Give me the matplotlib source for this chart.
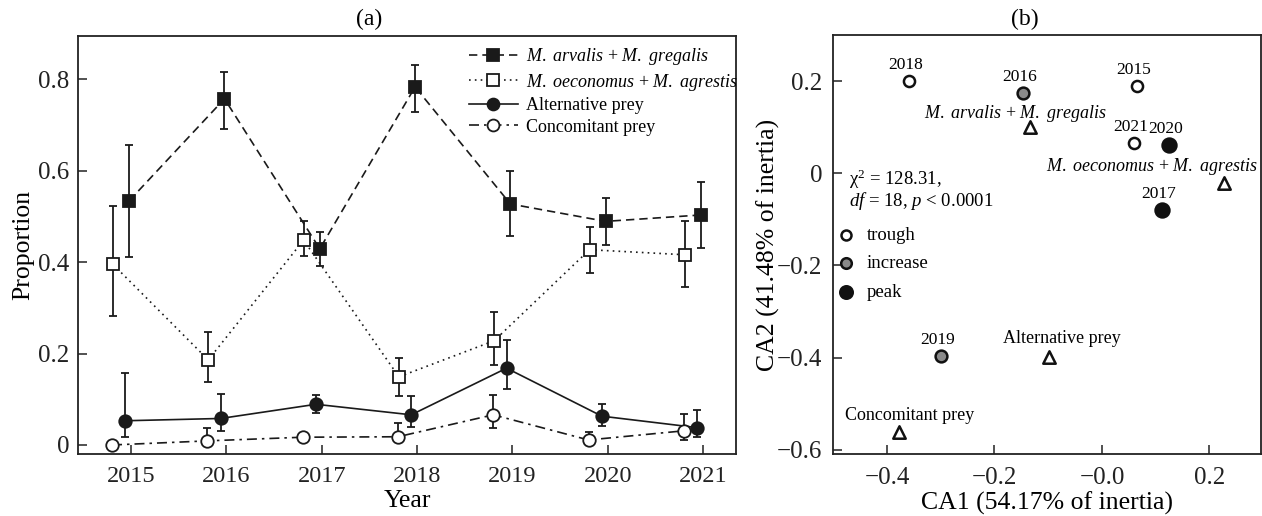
import matplotlib
matplotlib.use("Agg")
import matplotlib.pyplot as plt
import numpy as np

plt.rcParams["font.family"] = "serif"
plt.rcParams["font.serif"] = ["Liberation Serif", "DejaVu Serif"]
plt.rcParams["mathtext.fontset"] = "custom"
plt.rcParams["mathtext.rm"] = "Liberation Serif"
plt.rcParams["mathtext.it"] = "Liberation Serif:italic"
plt.rcParams["axes.unicode_minus"] = True

# panel (a): prey proportions by year, with confidence limits
years = np.array([2015, 2016, 2017, 2018, 2019, 2020, 2021])

arv_greg = [0.534, 0.757, 0.429, 0.783, 0.527, 0.489, 0.503]
arv_greg_lo = [0.411, 0.690, 0.392, 0.729, 0.457, 0.438, 0.430]
arv_greg_hi = [0.655, 0.816, 0.466, 0.831, 0.600, 0.540, 0.576]

oec_agr = [0.395, 0.186, 0.448, 0.149, 0.228, 0.427, 0.416]
oec_agr_lo = [0.282, 0.138, 0.414, 0.108, 0.174, 0.376, 0.345]
oec_agr_hi = [0.522, 0.247, 0.489, 0.190, 0.290, 0.477, 0.489]

alt_prey = [0.053, 0.058, 0.089, 0.066, 0.168, 0.063, 0.038]
alt_prey_lo = [0.017, 0.031, 0.070, 0.039, 0.122, 0.042, 0.017]
alt_prey_hi = [0.157, 0.112, 0.110, 0.107, 0.230, 0.090, 0.077]

conc_prey = [0.000, 0.009, 0.017, 0.018, 0.066, 0.011, 0.031]
conc_prey_lo = [0.000, 0.002, 0.012, 0.008, 0.038, 0.004, 0.012]
conc_prey_hi = [0.004, 0.038, 0.022, 0.047, 0.109, 0.028, 0.068]

series_labels = [r"$M.\ arvalis$ + $M.\ gregalis$",
                 r"$M.\ oeconomus$ + $M.\ agrestis$",
                 "Alternative prey",
                 "Concomitant prey"]

# panel (b): correspondence analysis scores
ca_years = ["2015", "2016", "2017", "2018", "2019", "2020", "2021"]
ca1_years = [0.065, -0.147, 0.111, -0.360, -0.300, 0.125, 0.059]
ca2_years = [0.189, 0.174, -0.079, 0.200, -0.397, 0.061, 0.066]
phase = ["trough", "increase", "peak", "trough", "increase", "peak", "trough"]

prey_groups = [r"$M.\ arvalis$ + $M.\ gregalis$",
               r"$M.\ oeconomus$ + $M.\ agrestis$",
               "Alternative prey",
               "Concomitant prey"]
ca1_prey = [-0.133, 0.227, -0.099, -0.377]
ca2_prey = [0.100, -0.021, -0.398, -0.561]

chi_text = "\u03c7$^2$ = 128.31,"
stat_text = r"$df$ = 18, $p$ < 0.0001"

W, H = 1262, 516
fig = plt.figure(figsize=(W / 100, H / 100), dpi=100)


def px_rect(x0, y0, x1, y1):
    return [x0 / W, 1 - y1 / H, (x1 - x0) / W, (y1 - y0) / H]


ax1 = fig.add_axes(px_rect(77.7, 35.7, 736.3, 454))
ax2 = fig.add_axes(px_rect(833.3, 35, 1261, 454))

for ax in (ax1, ax2):
    for sp in ax.spines.values():
        sp.set_linewidth(1.3)
        sp.set_color("#222222")
    ax.tick_params(direction="in", length=6.5, width=1.1, colors="#222222",
                   labelsize=18, top=False, right=False)
    ax.tick_params(axis="y", pad=6)
    ax.tick_params(axis="x", pad=9)

# ---- (a) ----
ink = "#1a1a1a"
styles = [
    dict(data=(arv_greg, arv_greg_lo, arv_greg_hi), dx=-0.02, marker="s",
         mfc=ink, ls=(0, (5, 3))),
    dict(data=(oec_agr, oec_agr_lo, oec_agr_hi), dx=-0.19, marker="s",
         mfc="white", ls=(0, (1, 2.5))),
    dict(data=(alt_prey, alt_prey_lo, alt_prey_hi), dx=-0.06, marker="o",
         mfc=ink, ls="-"),
    dict(data=(conc_prey, conc_prey_lo, conc_prey_hi), dx=-0.20, marker="o",
         mfc="white", ls=(0, (6, 3, 1.5, 3))),
]
handles = []
for st, lab in zip(styles, series_labels):
    vals, lo, hi = (np.asarray(a) for a in st["data"])
    yerr = np.vstack([vals - lo, hi - vals])
    cont = ax1.errorbar(years + st["dx"], vals, yerr=yerr, color=ink,
                        marker=st["marker"], markersize=9, mfc=st["mfc"],
                        mec=ink, mew=1.3, linestyle=st["ls"], linewidth=1.2,
                        ecolor=ink, elinewidth=1.3, capsize=3, capthick=1.3,
                        label=lab, zorder=3)
    handles.append(cont.lines[0])

ax1.set_xlim(2014.44, 2021.35)
ax1.set_ylim(-0.0197, 0.895)
ax1.set_xticks(years)
ax1.set_xticklabels([str(y) for y in years], fontsize=17.5)
ax1.set_yticks([0, 0.2, 0.4, 0.6, 0.8])
ax1.set_yticklabels(["0", "0.2", "0.4", "0.6", "0.8"])
ax1.set_xlabel("Year", fontsize=18.5, labelpad=2)
ax1.set_ylabel("Proportion", fontsize=18.5, labelpad=3)

ax1.legend(handles, series_labels, loc="upper left",
           bbox_to_anchor=(0.594, 0.975), frameon=False, fontsize=13,
           borderpad=0, borderaxespad=0, labelspacing=0.25,
           handlelength=2.7, handletextpad=0.45, markerscale=0.95)

# ---- (b) ----
phase_style = {
    "trough": dict(fc="white", s=64),
    "increase": dict(fc="#8a8a8a", s=72),
    "peak": dict(fc="#111111", s=100),
}
phase_arr = np.array(phase)
x_arr = np.array(ca1_years)
y_arr = np.array(ca2_years)
for ph in ["trough", "increase", "peak"]:
    m = phase_arr == ph
    ax2.scatter(x_arr[m], y_arr[m], s=phase_style[ph]["s"],
                facecolor=phase_style[ph]["fc"], edgecolor="#111111",
                linewidth=1.8, label=ph, zorder=3)

for lab, x, y in zip(ca_years, ca1_years, ca2_years):
    ax2.annotate(lab, (x, y), xytext=(-3, 16), textcoords="offset pixels",
                 ha="center", va="center", fontsize=12.5)

ax2.scatter(ca1_prey, ca2_prey, marker="^", s=80, facecolor="white",
            edgecolor="#111111", linewidth=1.8, zorder=3)

prey_offsets = [(-15, 14, "center"), (34, 16, "right"),
                (13, 18, "center"), (10, 16, "center")]
for lab, x, y, (ox, oy, ha) in zip(prey_groups, ca1_prey, ca2_prey,
                                   prey_offsets):
    ax2.annotate(lab, (x, y), xytext=(ox, oy), textcoords="offset pixels",
                 ha=ha, va="center", fontsize=13)

ax2.text(0.036, 0.656, chi_text, transform=ax2.transAxes, fontsize=13.5,
         ha="left", va="center")
ax2.text(0.036, 0.604, stat_text, transform=ax2.transAxes, fontsize=13.5,
         ha="left", va="center")

ax2.legend(loc="upper left", bbox_to_anchor=(0.008, 0.543), frameon=False,
           fontsize=13.5, borderpad=0, borderaxespad=0, labelspacing=0.62,
           handlelength=1.0, handletextpad=0.6, scatterpoints=1,
           markerscale=0.9)

ax2.set_xlim(-0.5, 0.296)
ax2.set_ylim(-0.609, 0.3)
ax2.set_xticks([-0.4, -0.2, 0.0, 0.2])
ax2.set_xticklabels(["\u22120.4", "\u22120.2", "\u22120.0", "0.2"])
ax2.set_yticks([-0.6, -0.4, -0.2, 0.0, 0.2])
ax2.set_yticklabels(["\u22120.6", "\u22120.4", "\u22120.2", "0", "0.2"])
ax2.tick_params(axis="y", pad=8)
ax2.set_xlabel("CA1 (54.17% of inertia)", fontsize=18.5, labelpad=2)
ax2.set_ylabel("CA2 (41.48% of inertia)", fontsize=18.5, labelpad=-2)

# panel letters, centred over each panel including its labels
fig.text(369 / W, 1 - 19 / H, "(a)", ha="center", va="center", fontsize=17)
fig.text(1025 / W, 1 - 19 / H, "(b)", ha="center", va="center", fontsize=17)

fig.savefig("out.png", dpi=100)
